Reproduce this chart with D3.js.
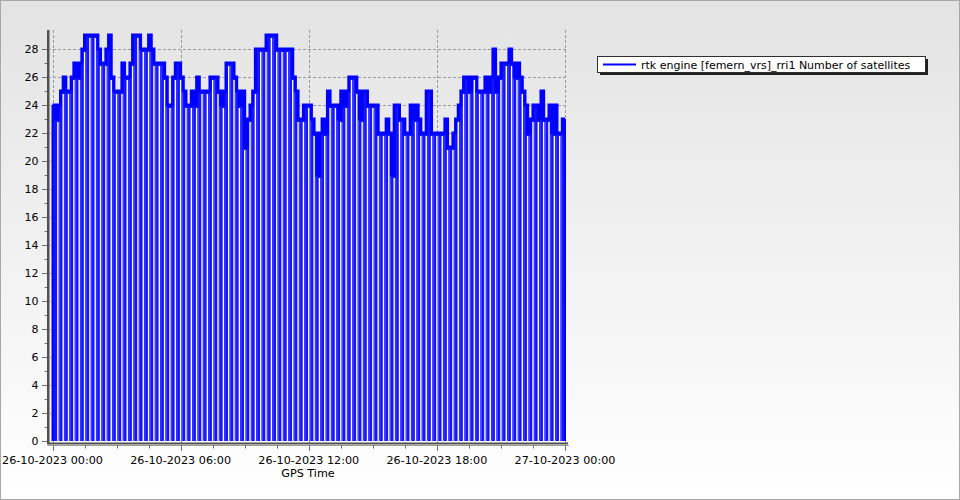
<!DOCTYPE html>
<html><head><meta charset="utf-8">
<script src="https://cdn.jsdelivr.net/npm/d3@7"></script>
<style>html,body{margin:0;padding:0;background:#fff}svg{display:block}</style>
</head><body>
<svg id="c" width="960" height="500"></svg>
<script>
// ---- data ----
const startTime = "2023-10-26T00:00:00";
const endTime = "2023-10-27T00:00:00";
const stepMinutes = 7.5;
const satellites = [
 24,23,24,25,26,25,25,26,27,26,
 27,28,29,29,29,29,29,28,27,27,
 28,29,26,25,25,25,27,26,26,27,
 29,29,29,28,28,28,29,28,27,27,
 27,27,26,24,24,26,27,27,26,25,
 24,24,25,24,26,25,25,25,25,26,
 26,26,25,24,25,27,27,27,26,25,
 24,25,21,23,24,25,28,28,28,28,
 29,29,29,29,28,28,28,28,28,28,
 26,25,23,23,24,24,24,23,22,19,
 22,23,22,25,24,24,24,23,25,24,
 25,26,26,26,25,23,25,25,24,24,
 24,24,22,22,22,23,22,19,24,24,
 23,23,22,22,24,23,24,23,22,22,
 25,25,22,22,22,22,22,23,21,21,
 22,23,24,25,26,26,25,26,26,25,
 25,25,26,25,26,28,25,26,27,27,
 27,28,27,26,27,26,25,24,22,23,
 24,24,23,25,23,23,24,22,24,22,
 22,23
];
const yTicks = [0,2,4,6,8,10,12,14,16,18,20,22,24,26,28];
const xTickLabels = ["26-10-2023 00:00","26-10-2023 06:00","26-10-2023 12:00","26-10-2023 18:00","27-10-2023 00:00"];
const seriesName = "rtk engine [femern_vrs]_rri1 Number of satellites";
const xTitle = "GPS Time";

// ---- chart ----
const svg = d3.select("#c");
const W = 960, H = 500;
const font = "'DejaVu Sans', Verdana, sans-serif";
const defs = svg.append("defs");
const g = defs.append("linearGradient").attr("id","bg").attr("x1",0).attr("y1",0).attr("x2",0).attr("y2",1);
g.append("stop").attr("offset","0%").attr("stop-color","#e3e3e3");
g.append("stop").attr("offset","100%").attr("stop-color","#ffffff");
svg.append("rect").attr("x",0).attr("y",0).attr("width",W).attr("height",H).attr("fill","url(#bg)");
svg.append("rect").attr("x",0.5).attr("y",0.5).attr("width",W-1).attr("height",H-1).attr("fill","none").attr("stroke","#a8a8a8");

const t0 = new Date(startTime), t1 = new Date(endTime);
const x = d3.scaleTime().domain([t0,t1]).range([52.5,565]);
const y = d3.scaleLinear().domain([0,28]).range([441,49]);
const plotL = 48, plotR = 567, plotT = 30, plotB = 443;

const data = satellites.map((v,i)=>({t:new Date(t0.getTime()+i*stepMinutes*60000), v}));
const dataExt = data.concat([{t:new Date(t0.getTime()+satellites.length*stepMinutes*60000), v:satellites[satellites.length-1]}]);

// gridlines
const grid = svg.append("g").attr("stroke","#9a9a9a").attr("stroke-dasharray","3,2").attr("stroke-width",1);
yTicks.forEach(v=>{ if(v>0) grid.append("line").attr("x1",plotL).attr("x2",plotR).attr("y1",Math.round(y(v))+0.5).attr("y2",Math.round(y(v))+0.5); });
const majorTimes = d3.range(0,5).map(i=>new Date(t0.getTime()+i*6*3600000));
majorTimes.forEach(t=>grid.append("line").attr("x1",Math.round(x(t))+0.5).attr("x2",Math.round(x(t))+0.5).attr("y1",plotT).attr("y2",plotB));

// series area fill
const area = d3.area().x(d=>x(d.t)).y0(y(0)).y1(d=>y(d.v)).curve(d3.curveStepAfter);
svg.append("path").datum(dataExt).attr("d",area).attr("fill","#1414ff");

// white gaps between 15-min columns
const gaps = svg.append("g");
for(let j=1;j<satellites.length/2;j++){
  const a = satellites[2*j-1], b = satellites[2*j];
  const top = Math.min(a,b);
  const xx = x(new Date(t0.getTime()+j*15*60000));
  gaps.append("rect").attr("x",xx-0.7).attr("width",1.4).attr("y",y(top)+3).attr("height",y(0)-y(top)-3).attr("fill","#ffffff");
  gaps.append("rect").attr("x",xx+1.2).attr("width",1).attr("y",y(top)+3).attr("height",y(0)-y(top)-3).attr("fill","#4a4aff");
}
// top line
const line = d3.line().x(d=>x(d.t)).y(d=>y(d.v)).curve(d3.curveStepAfter);
svg.append("path").datum(dataExt).attr("d",line).attr("fill","none").attr("stroke","#0000ff").attr("stroke-width",3);
// column edges (down strokes)
svg.append("line").attr("x1",x(t0)).attr("x2",x(t0)).attr("y1",y(0)).attr("y2",y(satellites[0])).attr("stroke","#0000ff").attr("stroke-width",2);
svg.append("line").attr("x1",x(t1)).attr("x2",x(t1)).attr("y1",y(0)).attr("y2",y(satellites[satellites.length-1])).attr("stroke","#0000ff").attr("stroke-width",2);

// axes lines with shadow
svg.append("line").attr("x1",49.5).attr("x2",49.5).attr("y1",plotT).attr("y2",446).attr("stroke","#a0a0a0").attr("stroke-width",1);
svg.append("line").attr("x1",47.5).attr("x2",569).attr("y1",445.5).attr("y2",445.5).attr("stroke","#a0a0a0").attr("stroke-width",1);
svg.append("line").attr("x1",48).attr("x2",48).attr("y1",plotT).attr("y2",444).attr("stroke","#505050").attr("stroke-width",2);
svg.append("line").attr("x1",47).attr("x2",568).attr("y1",443.5).attr("y2",443.5).attr("stroke","#505050").attr("stroke-width",2);

// y ticks
const yax = svg.append("g");
d3.range(0,29).forEach(v=>{
  const yy = Math.round(y(v))+0.5;
  const major = v%2===0;
  yax.append("line").attr("x1",major?42:44.5).attr("x2",47).attr("y1",yy).attr("y2",yy).attr("stroke","#707070");
});
yTicks.forEach(v=>{
  yax.append("text").attr("x",38.5).attr("y",y(v)+4).attr("text-anchor","end")
    .attr("font-family",font).attr("font-size","11px").attr("fill","#000").text(v);
});

// x ticks
const xax = svg.append("g");
d3.range(0,17).forEach(i=>{
  const t = new Date(t0.getTime()+i*90*60000);
  const xx = Math.round(x(t))+0.5;
  const major = i%4===0;
  xax.append("line").attr("x1",xx).attr("x2",xx).attr("y1",445).attr("y2",major?451:448.5).attr("stroke","#707070");
});
majorTimes.forEach((t,i)=>{
  xax.append("text").attr("x",x(t)).attr("y",463.5).attr("text-anchor","middle")
    .attr("font-family",font).attr("font-size","11.2px").attr("fill","#000").text(xTickLabels[i]);
});
svg.append("text").attr("x",308).attr("y",476.5).attr("text-anchor","middle")
  .attr("font-family",font).attr("font-size","11.2px").attr("fill","#000").text(xTitle);

// legend
const lg = svg.append("g");
lg.append("rect").attr("x",600).attr("y",59).attr("width",328).attr("height",16).attr("fill","#202020");
lg.append("rect").attr("x",597.5).attr("y",56.5).attr("width",328).attr("height",16).attr("fill","#fff").attr("stroke","#303030");
lg.append("line").attr("x1",603).attr("x2",636).attr("y1",64.5).attr("y2",64.5).attr("stroke","#0000ff").attr("stroke-width",2);
lg.append("text").attr("x",641).attr("y",68.5).attr("font-family",font).attr("font-size","11px").attr("fill","#000").text(seriesName);
</script>
</body></html>
